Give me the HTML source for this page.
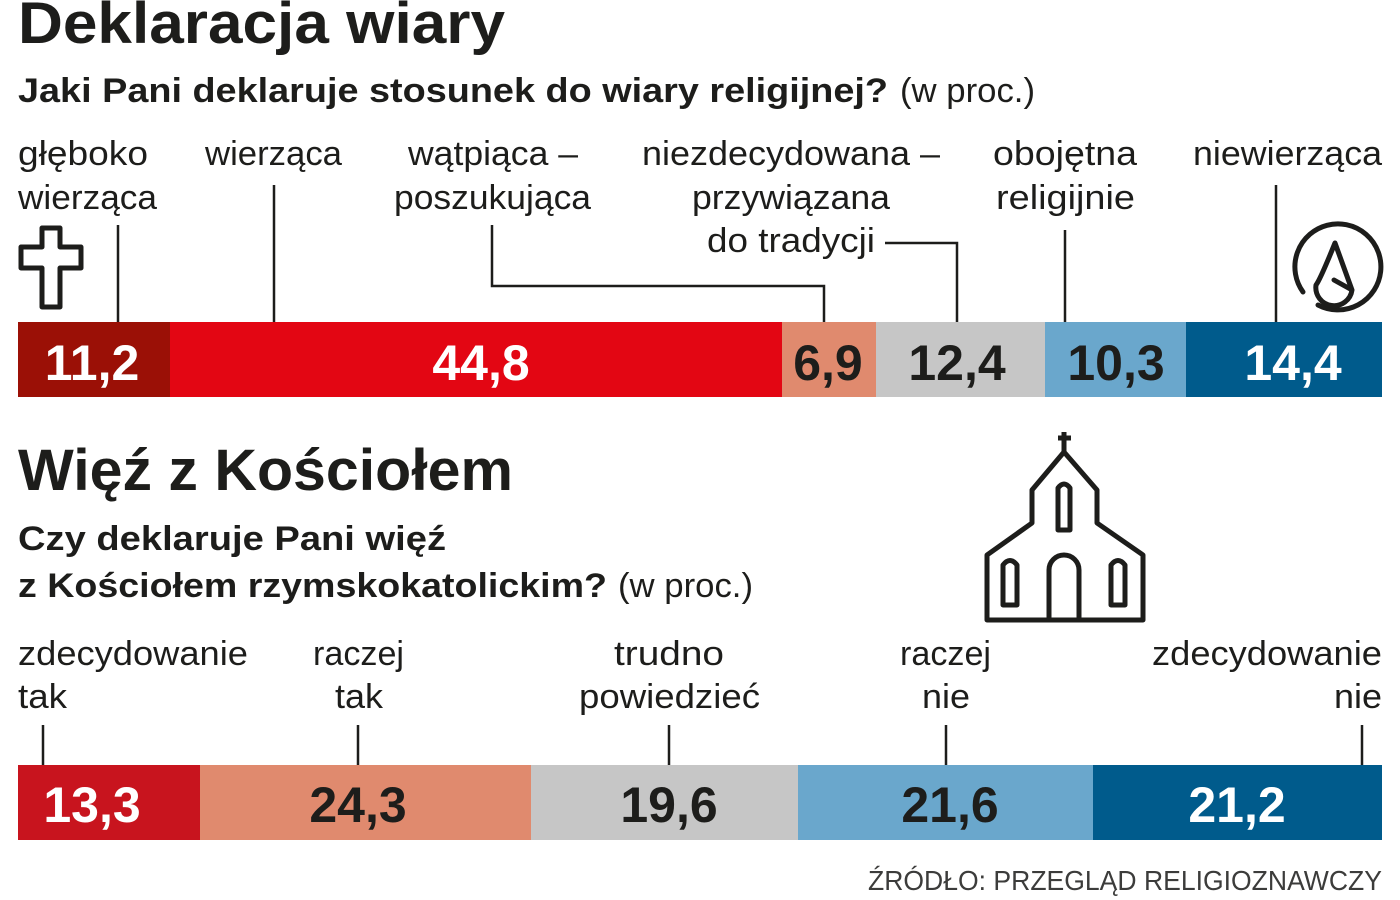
<!DOCTYPE html>
<html><head><meta charset="utf-8"><style>
html,body{margin:0;padding:0;background:#fff;}
svg{display:block;}
text{font-family:"Liberation Sans",sans-serif;fill:#1d1d1b;}
.t{font-weight:bold;font-size:58px;}
.s{font-weight:bold;font-size:34px;}
.l{font-size:34px;}
.n{font-family:"Liberation Sans Narrow","Liberation Sans",sans-serif;font-weight:bold;font-size:50px;text-anchor:middle;}
.w{fill:#fff;}
</style></head><body>
<svg width="1400" height="900" viewBox="0 0 1400 900" xmlns="http://www.w3.org/2000/svg">
<text class="t" x="18" y="43" textLength="487" lengthAdjust="spacingAndGlyphs">Deklaracja wiary</text>
<text class="s" x="18" y="102" textLength="870" lengthAdjust="spacingAndGlyphs">Jaki Pani deklaruje stosunek do wiary religijnej?</text>
<text class="l" x="900" y="102" textLength="135" lengthAdjust="spacingAndGlyphs">(w proc.)</text>

<g class="lb">
<text class="l" x="18" y="165" textLength="130" lengthAdjust="spacingAndGlyphs">głęboko</text>
<text class="l" x="18" y="209" textLength="139" lengthAdjust="spacingAndGlyphs">wierząca</text>
<text class="l" x="205" y="165" textLength="137" lengthAdjust="spacingAndGlyphs">wierząca</text>
<text class="l" x="408" y="165" textLength="170" lengthAdjust="spacingAndGlyphs">wątpiąca –</text>
<text class="l" x="394" y="209" textLength="197" lengthAdjust="spacingAndGlyphs">poszukująca</text>
<text class="l" x="642" y="165" textLength="298" lengthAdjust="spacingAndGlyphs">niezdecydowana –</text>
<text class="l" x="692" y="209" textLength="198" lengthAdjust="spacingAndGlyphs">przywiązana</text>
<text class="l" x="707" y="252" textLength="168" lengthAdjust="spacingAndGlyphs">do tradycji</text>
<text class="l" x="993" y="165" textLength="144" lengthAdjust="spacingAndGlyphs">obojętna</text>
<text class="l" x="996" y="209" textLength="139" lengthAdjust="spacingAndGlyphs">religijnie</text>
<text class="l" x="1193" y="165" textLength="189" lengthAdjust="spacingAndGlyphs">niewierząca</text>
</g>
<g stroke="#1d1d1b" stroke-width="2.5" fill="none">
<line x1="118" y1="225" x2="118" y2="322"/>
<line x1="274" y1="185" x2="274" y2="322"/>
<polyline points="492,225 492,286 824,286 824,322"/>
<polyline points="885,243 957,243 957,322"/>
<line x1="1065" y1="230" x2="1065" y2="322"/>
<line x1="1276" y1="185" x2="1276" y2="322"/>
</g>
<!-- cross -->
<path d="M42,228 H60 V247 H81 V268 H60 V307 H42 V268 H21 V247 H42 Z" fill="none" stroke="#1d1d1b" stroke-width="5" stroke-linejoin="round"/>
<!-- atheist -->
<g fill="none" stroke="#1d1d1b" stroke-width="5" stroke-linecap="round" stroke-linejoin="round">
<path d="M1303,292 A43,43 0 1 1 1318,305"/>
<path d="M1335,243 L1352,290 L1334,280 M1335,243 Q1320,280 1316,285 A14,14 0 0 0 1352,290"/>
</g>

<rect x="18" y="322" width="152" height="75" fill="#9b1006"/>
<rect x="170" y="322" width="612" height="75" fill="#e30613"/>
<rect x="782" y="322" width="94" height="75" fill="#e08a6e"/>
<rect x="876" y="322" width="169" height="75" fill="#c6c6c6"/>
<rect x="1045" y="322" width="141" height="75" fill="#6aa7cc"/>
<rect x="1186" y="322" width="196" height="75" fill="#005b8c"/>
<text class="n w" x="92" y="380">11,2</text>
<text class="n w" x="481" y="380">44,8</text>
<text class="n" x="828" y="380">6,9</text>
<text class="n" x="957" y="380">12,4</text>
<text class="n" x="1116" y="380">10,3</text>
<text class="n w" x="1293" y="380">14,4</text>

<text class="t" x="18" y="490" textLength="495" lengthAdjust="spacingAndGlyphs">Więź z Kościołem</text>
<text class="s" x="18" y="550" textLength="428" lengthAdjust="spacingAndGlyphs">Czy deklaruje Pani więź</text>
<text class="s" x="18" y="597" textLength="589" lengthAdjust="spacingAndGlyphs">z Kościołem rzymskokatolickim?</text>
<text class="l" x="618" y="597" textLength="135" lengthAdjust="spacingAndGlyphs">(w proc.)</text>

<!-- church -->
<g fill="none" stroke="#1d1d1b" stroke-width="5" stroke-linejoin="round">
<path d="M987,620 V555 L1032,523 V490 L1064,452 L1097,490 V523 L1143,555 V620 Z"/>
<path d="M1064,452 V432 M1058,438 H1071"/>
<path d="M1058,530 V488 Q1064,480 1070,488 V530 Z"/>
<path d="M1003,605 V565 Q1010,556 1017,565 V605 Z"/>
<path d="M1111,605 V565 Q1118,556 1125,605 Z" stroke="none"/>
<path d="M1111,605 V565 Q1118,556 1125,565 V605 Z"/>
<path d="M1049,620 V570 A15,15 0 0 1 1079,570 V620"/>
</g>

<text class="l" x="18" y="665" textLength="230" lengthAdjust="spacingAndGlyphs">zdecydowanie</text>
<text class="l" x="18" y="708" textLength="49" lengthAdjust="spacingAndGlyphs">tak</text>
<text class="l" x="313" y="665" textLength="91" lengthAdjust="spacingAndGlyphs">raczej</text>
<text class="l" x="335" y="708" textLength="48" lengthAdjust="spacingAndGlyphs">tak</text>
<text class="l" x="614" y="665" textLength="110" lengthAdjust="spacingAndGlyphs">trudno</text>
<text class="l" x="579" y="708" textLength="181" lengthAdjust="spacingAndGlyphs">powiedzieć</text>
<text class="l" x="900" y="665" textLength="91" lengthAdjust="spacingAndGlyphs">raczej</text>
<text class="l" x="922" y="708" textLength="48" lengthAdjust="spacingAndGlyphs">nie</text>
<text class="l" x="1152" y="665" textLength="230" lengthAdjust="spacingAndGlyphs">zdecydowanie</text>
<text class="l" x="1334" y="708" textLength="48" lengthAdjust="spacingAndGlyphs">nie</text>
<g stroke="#1d1d1b" stroke-width="2.5">
<line x1="43" y1="725" x2="43" y2="765"/>
<line x1="358" y1="725" x2="358" y2="765"/>
<line x1="669" y1="725" x2="669" y2="765"/>
<line x1="946" y1="725" x2="946" y2="765"/>
<line x1="1362" y1="725" x2="1362" y2="765"/>
</g>
<rect x="18" y="765" width="182" height="75" fill="#c8141e"/>
<rect x="200" y="765" width="331" height="75" fill="#e08a6e"/>
<rect x="531" y="765" width="267" height="75" fill="#c6c6c6"/>
<rect x="798" y="765" width="295" height="75" fill="#6aa7cc"/>
<rect x="1093" y="765" width="289" height="75" fill="#005b8c"/>
<text class="n w" x="92" y="822">13,3</text>
<text class="n" x="358" y="822">24,3</text>
<text class="n" x="669" y="822">19,6</text>
<text class="n" x="950" y="822">21,6</text>
<text class="n w" x="1237" y="822">21,2</text>

<text x="868" y="890" style="font-size:28px;fill:#3c3c3b" textLength="514" lengthAdjust="spacingAndGlyphs">ŹRÓDŁO: PRZEGLĄD RELIGIOZNAWCZY</text>
</svg>
</body></html>
